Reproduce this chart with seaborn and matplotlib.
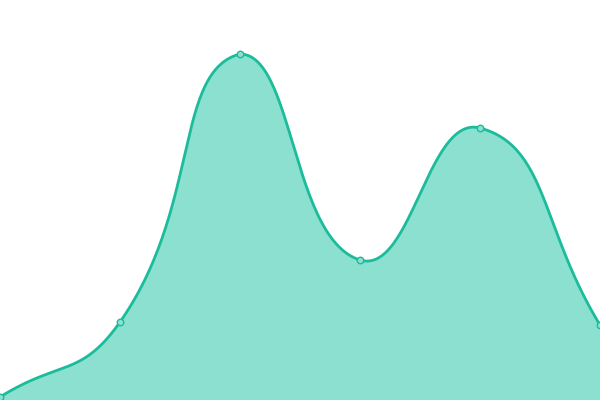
import numpy as np
import pandas as pd
import matplotlib
matplotlib.use("Agg")
import matplotlib.pyplot as plt
import seaborn as sns

# data
categories = ["A", "B", "C", "D", "E", "F"]
values = [3, 78, 346, 140, 272, 75]
y_max = 400

line_color = "#1abc9c"
fill_color = "#8be0cf"


def smooth_curve(pts, smooth=0.5, steps=60):
    # bezier smoothing, control points kept inside the points' bounding box
    pts = np.asarray(pts, dtype=float)
    n = len(pts)
    lo, hi = pts.min(axis=0), pts.max(axis=0)
    cp_in, cp_out = [], []
    for i in range(n):
        p = pts[i]
        prev = pts[max(i - 1, 0)]
        nxt = pts[min(i + 1, n - 1)]
        v = (nxt - prev) * smooth
        d0 = np.linalg.norm(p - prev)
        d1 = np.linalg.norm(p - nxt)
        s = d0 + d1
        if s:
            d0, d1 = d0 / s, d1 / s
        cp_in.append(np.clip(p - v * d0, lo, hi))
        cp_out.append(np.clip(p + v * d1, lo, hi))
    t = np.linspace(0, 1, steps)[:, None]
    out = [pts[:1]]
    for i in range(n - 1):
        a, b, c, d = pts[i], cp_out[i], cp_in[i + 1], pts[i + 1]
        seg = ((1 - t) ** 3 * a + 3 * (1 - t) ** 2 * t * b
               + 3 * (1 - t) * t ** 2 * c + t ** 3 * d)
        out.append(seg[1:])
    return np.vstack(out)


# smooth in canvas-like units so the shape matches the 600x400 picture
px_step = 600 / (len(categories) - 1)
scale = 400 / y_max
canvas_pts = np.column_stack([np.arange(len(categories)) * px_step,
                              np.array(values) * scale])
path = smooth_curve(canvas_pts)
curve = pd.DataFrame({"x": path[:, 0] / px_step, "y": path[:, 1] / scale})
pts = pd.DataFrame({"x": np.arange(len(categories)), "y": values})

sns.set_theme(style="white")
fig = plt.figure(figsize=(6, 4), dpi=100)
ax = fig.add_axes([0, 0, 1, 1])

ax.fill_between(curve["x"], curve["y"], 0, color=fill_color, lw=0)
sns.lineplot(data=curve, x="x", y="y", sort=False, estimator=None,
             color=line_color, lw=2, ax=ax)
sns.scatterplot(data=pts, x="x", y="y", s=22, color=fill_color,
                edgecolor=line_color, linewidth=1, zorder=5, ax=ax)

ax.set_xlim(0, len(categories) - 1)
ax.set_ylim(0, y_max)
ax.axis("off")

fig.savefig("out.png", dpi=100)
